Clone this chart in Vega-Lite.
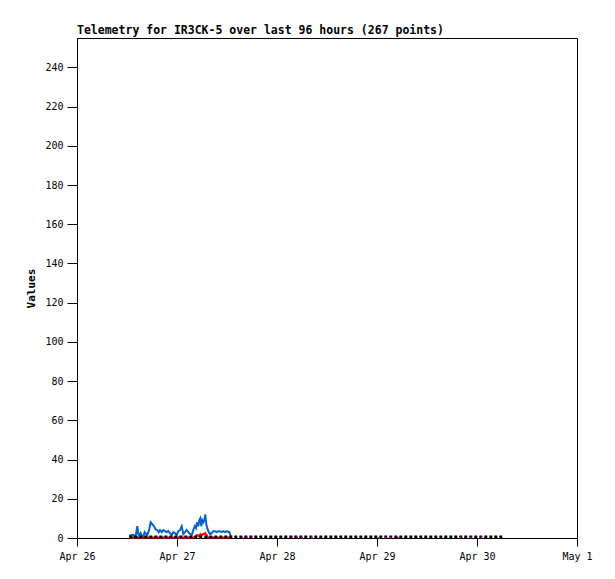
{
  "$schema": "https://vega.github.io/schema/vega-lite/v6.json",
  "autosize": "none",
  "width": 500,
  "height": 500,
  "padding": {"left": 77, "top": 38, "right": 38, "bottom": 41},
  "background": "white",
  "view": {"stroke": "black", "strokeWidth": 1},
  "title": {
    "text": "Telemetry for IR3CK-5 over last 96 hours (267 points)",
    "anchor": "start",
    "frame": "group",
    "font": "DejaVu Sans Mono",
    "fontSize": 11.5,
    "fontWeight": "bold",
    "color": "black",
    "offset": 2
  },
  "datasets": {
    "blue": [
      {"time": "2024-04-26T12:33:00Z", "value": 1},
      {"time": "2024-04-26T13:08:00Z", "value": 1.5},
      {"time": "2024-04-26T13:31:00Z", "value": 1.5},
      {"time": "2024-04-26T13:45:00Z", "value": 0.5},
      {"time": "2024-04-26T14:10:00Z", "value": 2},
      {"time": "2024-04-26T14:28:00Z", "value": 6},
      {"time": "2024-04-26T14:43:00Z", "value": 2},
      {"time": "2024-04-26T14:57:00Z", "value": 1.2},
      {"time": "2024-04-26T15:17:00Z", "value": 2.5},
      {"time": "2024-04-26T15:36:00Z", "value": 1},
      {"time": "2024-04-26T15:55:00Z", "value": 1},
      {"time": "2024-04-26T16:15:00Z", "value": 3},
      {"time": "2024-04-26T16:34:00Z", "value": 2},
      {"time": "2024-04-26T16:52:00Z", "value": 1.5},
      {"time": "2024-04-26T17:17:00Z", "value": 4},
      {"time": "2024-04-26T17:41:00Z", "value": 8},
      {"time": "2024-04-26T18:04:00Z", "value": 7},
      {"time": "2024-04-26T18:29:00Z", "value": 6},
      {"time": "2024-04-26T18:53:00Z", "value": 4.5},
      {"time": "2024-04-26T19:16:00Z", "value": 4},
      {"time": "2024-04-26T19:37:00Z", "value": 3},
      {"time": "2024-04-26T19:55:00Z", "value": 4},
      {"time": "2024-04-26T20:20:00Z", "value": 3},
      {"time": "2024-04-26T20:43:00Z", "value": 4},
      {"time": "2024-04-26T21:07:00Z", "value": 3.5},
      {"time": "2024-04-26T21:32:00Z", "value": 3},
      {"time": "2024-04-26T21:55:00Z", "value": 3.5},
      {"time": "2024-04-26T22:19:00Z", "value": 2.5},
      {"time": "2024-04-26T22:44:00Z", "value": 1.5},
      {"time": "2024-04-26T23:07:00Z", "value": 3},
      {"time": "2024-04-26T23:31:00Z", "value": 2.5},
      {"time": "2024-04-26T23:56:00Z", "value": 1.5},
      {"time": "2024-04-27T00:19:00Z", "value": 3.5},
      {"time": "2024-04-27T00:43:00Z", "value": 4},
      {"time": "2024-04-27T01:08:00Z", "value": 6},
      {"time": "2024-04-27T01:31:00Z", "value": 2},
      {"time": "2024-04-27T01:55:00Z", "value": 3},
      {"time": "2024-04-27T02:20:00Z", "value": 4},
      {"time": "2024-04-27T02:43:00Z", "value": 3},
      {"time": "2024-04-27T03:07:00Z", "value": 2},
      {"time": "2024-04-27T03:32:00Z", "value": 1.5},
      {"time": "2024-04-27T03:55:00Z", "value": 4},
      {"time": "2024-04-27T04:15:00Z", "value": 6},
      {"time": "2024-04-27T04:34:00Z", "value": 5},
      {"time": "2024-04-27T04:48:00Z", "value": 8},
      {"time": "2024-04-27T05:07:00Z", "value": 6},
      {"time": "2024-04-27T05:21:00Z", "value": 9},
      {"time": "2024-04-27T05:35:00Z", "value": 10},
      {"time": "2024-04-27T05:50:00Z", "value": 6},
      {"time": "2024-04-27T06:04:00Z", "value": 9},
      {"time": "2024-04-27T06:19:00Z", "value": 8},
      {"time": "2024-04-27T06:33:00Z", "value": 9},
      {"time": "2024-04-27T06:47:00Z", "value": 12},
      {"time": "2024-04-27T07:02:00Z", "value": 7},
      {"time": "2024-04-27T07:16:00Z", "value": 5},
      {"time": "2024-04-27T07:37:00Z", "value": 3},
      {"time": "2024-04-27T07:55:00Z", "value": 2},
      {"time": "2024-04-27T08:20:00Z", "value": 2.5},
      {"time": "2024-04-27T08:43:00Z", "value": 3.5},
      {"time": "2024-04-27T09:07:00Z", "value": 3.5},
      {"time": "2024-04-27T09:32:00Z", "value": 3},
      {"time": "2024-04-27T09:55:00Z", "value": 3.5},
      {"time": "2024-04-27T10:19:00Z", "value": 3.5},
      {"time": "2024-04-27T10:44:00Z", "value": 3},
      {"time": "2024-04-27T11:07:00Z", "value": 3.5},
      {"time": "2024-04-27T11:31:00Z", "value": 3},
      {"time": "2024-04-27T11:56:00Z", "value": 3.5},
      {"time": "2024-04-27T12:19:00Z", "value": 3},
      {"time": "2024-04-27T12:33:00Z", "value": 3},
      {"time": "2024-04-27T12:53:00Z", "value": 1}
    ],
    "red": [
      {"time": "2024-04-26T12:33:00Z", "value": 0.3},
      {"time": "2024-04-26T18:00:00Z", "value": 0.3},
      {"time": "2024-04-27T00:00:00Z", "value": 0.3},
      {"time": "2024-04-27T04:00:00Z", "value": 0.3},
      {"time": "2024-04-27T04:19:00Z", "value": 0.5},
      {"time": "2024-04-27T04:48:00Z", "value": 1.5},
      {"time": "2024-04-27T05:17:00Z", "value": 1},
      {"time": "2024-04-27T05:38:00Z", "value": 2},
      {"time": "2024-04-27T06:00:00Z", "value": 1.5},
      {"time": "2024-04-27T06:22:00Z", "value": 2},
      {"time": "2024-04-27T06:43:00Z", "value": 2.5},
      {"time": "2024-04-27T07:05:00Z", "value": 1.5},
      {"time": "2024-04-27T07:26:00Z", "value": 0.3},
      {"time": "2024-04-27T08:00:00Z", "value": 0.3},
      {"time": "2024-04-27T12:53:00Z", "value": 0.3}
    ],
    "black": [
      {"time": "2024-04-26T12:33:00Z", "value": 0.6},
      {"time": "2024-04-26T18:00:00Z", "value": 0.6},
      {"time": "2024-04-27T00:00:00Z", "value": 0.6},
      {"time": "2024-04-27T06:00:00Z", "value": 0.6},
      {"time": "2024-04-27T12:00:00Z", "value": 0.6},
      {"time": "2024-04-27T18:00:00Z", "value": 0.6},
      {"time": "2024-04-28T00:00:00Z", "value": 0.6},
      {"time": "2024-04-28T06:00:00Z", "value": 0.6},
      {"time": "2024-04-28T12:00:00Z", "value": 0.6},
      {"time": "2024-04-28T18:00:00Z", "value": 0.6},
      {"time": "2024-04-29T00:00:00Z", "value": 0.6},
      {"time": "2024-04-29T06:00:00Z", "value": 0.6},
      {"time": "2024-04-29T12:00:00Z", "value": 0.6},
      {"time": "2024-04-29T18:00:00Z", "value": 0.6},
      {"time": "2024-04-30T00:00:00Z", "value": 0.6},
      {"time": "2024-04-30T06:14:00Z", "value": 0.6}
    ],
    "magenta": [
      {"time": "2024-04-26T21:00:00Z", "value": 0.2},
      {"time": "2024-04-26T22:30:00Z", "value": 0.2},
      {"time": "2024-04-27T00:30:00Z", "value": 0.2},
      {"time": "2024-04-27T02:00:00Z", "value": 0.2},
      {"time": "2024-04-27T15:40:00Z", "value": 0.2},
      {"time": "2024-04-27T16:50:00Z", "value": 0.2},
      {"time": "2024-04-27T18:00:00Z", "value": 0.2},
      {"time": "2024-04-28T03:40:00Z", "value": 0.2},
      {"time": "2024-04-28T04:50:00Z", "value": 0.2},
      {"time": "2024-04-28T06:00:00Z", "value": 0.2},
      {"time": "2024-04-28T08:20:00Z", "value": 0.2},
      {"time": "2024-04-29T00:30:00Z", "value": 0.2},
      {"time": "2024-04-29T02:00:00Z", "value": 0.2},
      {"time": "2024-04-29T03:20:00Z", "value": 0.2},
      {"time": "2024-04-29T05:00:00Z", "value": 0.2},
      {"time": "2024-04-29T20:00:00Z", "value": 0.2},
      {"time": "2024-04-29T22:30:00Z", "value": 0.2},
      {"time": "2024-04-30T01:00:00Z", "value": 0.2}
    ]
  },
  "encoding": {
    "x": {
      "field": "time",
      "type": "temporal",
      "scale": {
        "type": "utc",
        "domain": [
          {"year": 2024, "month": 4, "date": 26, "utc": true},
          {"year": 2024, "month": 5, "date": 1, "utc": true}
        ]
      },
      "axis": {
        "title": null,
        "values": [
          {"year": 2024, "month": 4, "date": 26, "utc": true},
          {"year": 2024, "month": 4, "date": 27, "utc": true},
          {"year": 2024, "month": 4, "date": 28, "utc": true},
          {"year": 2024, "month": 4, "date": 29, "utc": true},
          {"year": 2024, "month": 4, "date": 30, "utc": true},
          {"year": 2024, "month": 5, "date": 1, "utc": true}
        ],
        "labelExpr": "utcFormat(datum.value, '%b') + ' ' + utcdate(datum.value)",
        "grid": false,
        "domainColor": "black",
        "tickColor": "black",
        "tickSize": 8,
        "labelColor": "black",
        "labelFont": "DejaVu Sans Mono",
        "labelFontSize": 10,
        "labelPadding": 5,
        "labelFlush": false,
        "labelOverlap": false
      }
    },
    "y": {
      "field": "value",
      "type": "quantitative",
      "scale": {"domain": [0, 255], "nice": false, "zero": true},
      "axis": {
        "title": "Values",
        "values": [0, 20, 40, 60, 80, 100, 120, 140, 160, 180, 200, 220, 240],
        "grid": false,
        "domainColor": "black",
        "tickColor": "black",
        "tickSize": 10,
        "labelColor": "black",
        "labelFont": "DejaVu Sans Mono",
        "labelFontSize": 10,
        "labelPadding": 4,
        "titleFont": "DejaVu Sans Mono",
        "titleFontSize": 11,
        "titleFontWeight": "bold",
        "titleColor": "black",
        "titlePadding": 8
      }
    }
  },
  "layer": [
    {
      "data": {"name": "red"},
      "mark": {"type": "line", "color": "#ff0000", "strokeWidth": 2, "interpolate": "linear"}
    },
    {
      "data": {"name": "blue"},
      "mark": {"type": "line", "color": "#0066cc", "strokeWidth": 2, "interpolate": "linear"}
    },
    {
      "data": {"name": "black"},
      "mark": {"type": "line", "color": "black", "strokeWidth": 2.5, "strokeDash": [3, 2]}
    },
    {
      "data": {"name": "magenta"},
      "mark": {"type": "point", "shape": "square", "filled": true, "color": "#aa00aa", "size": 3, "opacity": 1}
    }
  ]
}
